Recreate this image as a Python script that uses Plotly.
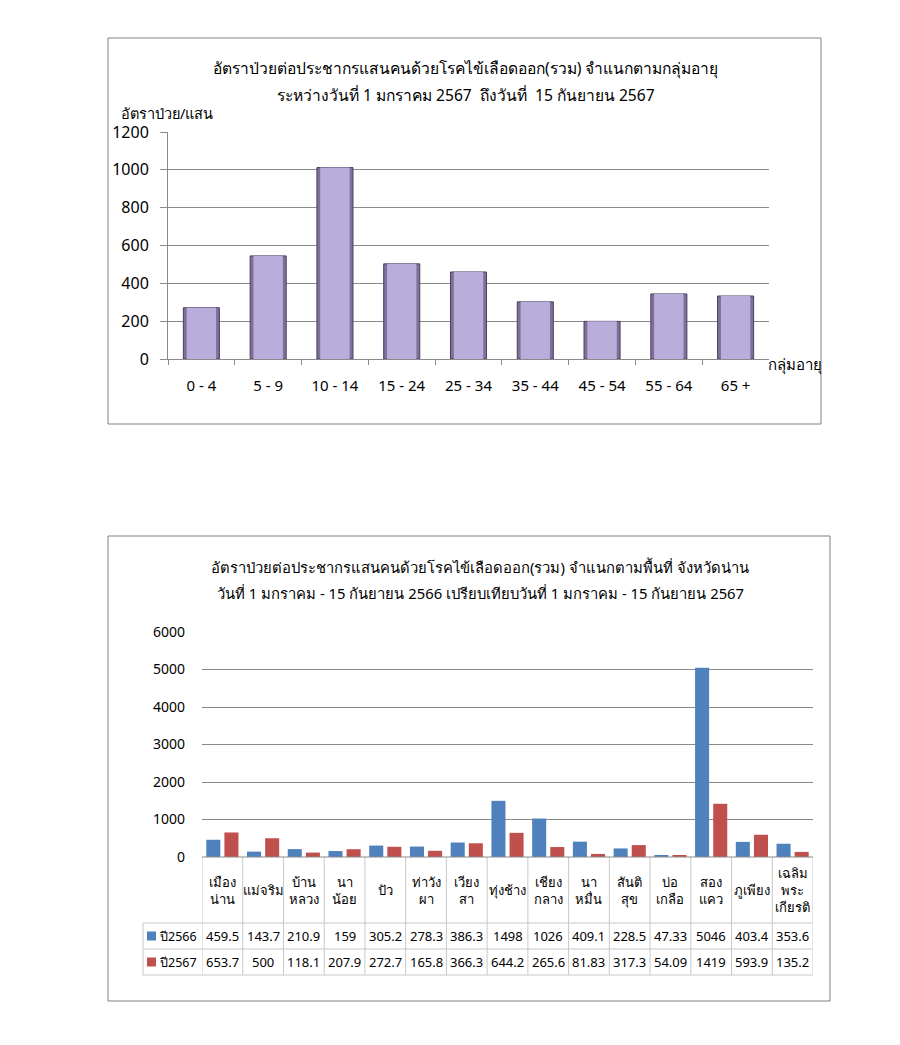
import plotly.graph_objects as go

W, H = 900, 1045

# ---------------- data ----------------
age_groups = ["0 - 4", "5 - 9", "10 - 14", "15 - 24", "25 - 34", "35 - 44", "45 - 54", "55 - 64", "65 +"]
age_rates = [271, 545, 1012, 503, 460, 302, 199, 344, 333]

districts = ["เมืองน่าน", "แม่จริม", "บ้านหลวง", "นาน้อย", "ปัว", "ท่าวังผา", "เวียงสา", "ทุ่งช้าง",
             "เชียงกลาง", "นาหมื่น", "สันติสุข", "บ่อเกลือ", "สองแคว", "ภูเพียง", "เฉลิมพระเกียรติ"]
district_labels = ["เมือง<br>น่าน", "แม่จริม", "บ้าน<br>หลวง", "นา<br>น้อย", "ปัว", "ท่าวัง<br>ผา", "เวียง<br>สา",
                   "ทุ่งช้าง", "เชียง<br>กลาง", "นา<br>หมื่น", "สันติ<br>สุข", "บ่อ<br>เกลือ", "สอง<br>แคว",
                   "ภูเพียง", "เฉลิม<br>พระ<br>เกียรติ"]
rate_2566 = [459.5, 143.7, 210.9, 159, 305.2, 278.3, 386.3, 1498, 1026, 409.1, 228.5, 47.33, 5046, 403.4, 353.6]
rate_2567 = [653.7, 500, 118.1, 207.9, 272.7, 165.8, 366.3, 644.2, 265.6, 81.83, 317.3, 54.09, 1419, 593.9, 135.2]
series_names = ["ปี2566", "ปี2567"]

NB = "\u00a0"
title1 = ["อัตราป่วยต่อประชากรแสนคนด้วยโรคไข้เลือดออก(รวม) จำแนกตามกลุ่มอายุ",
          f"ระหว่างวันที่ 1 มกราคม 2567 {NB}ถึงวันที่ {NB}15 กันยายน 2567"]
title2 = ["อัตราป่วยต่อประชากรแสนคนด้วยโรคไข้เลือดออก(รวม) จำแนกตามพื้นที่ จังหวัดน่าน",
          "วันที่ 1 มกราคม - 15 กันยายน 2566 เปรียบเทียบวันที่ 1 มกราคม - 15 กันยายน 2567"]

BLUE = "#4F81BD"
RED = "#C0504D"
FONT = "Tahoma, 'Noto Sans', 'DejaVu Sans', sans-serif"

# the page body adds an 8px margin around the figure
OFF = 8


def px(x):
    return (x - OFF) / W


def py(y):
    return 1 - (y - OFF) / H


fig = go.Figure()

# ---------------- chart 1 (bevelled bars: dark body + lighter face) ----------------
fig.add_trace(go.Bar(
    x=age_groups, y=age_rates, xaxis="x", yaxis="y", width=0.54,
    marker=dict(color="#7E7099", line=dict(color="#4A3F60", width=1)),
    showlegend=False, hoverinfo="skip",
))
fig.add_trace(go.Bar(
    x=age_groups, y=age_rates, xaxis="x", yaxis="y", width=0.44,
    marker=dict(color="#B9ADDB", line=dict(width=0)),
    showlegend=False,
))

# ---------------- chart 2 ----------------
fig.add_trace(go.Bar(
    x=districts, y=rate_2566, xaxis="x2", yaxis="y2", name=series_names[0],
    offset=-0.395, width=0.345, marker=dict(color=BLUE, line=dict(width=0)), showlegend=False,
))
fig.add_trace(go.Bar(
    x=districts, y=rate_2567, xaxis="x2", yaxis="y2", name=series_names[1],
    offset=0.05, width=0.345, marker=dict(color=RED, line=dict(width=0)), showlegend=False,
))

GRID = "#8a8a8a"
fig.update_layout(
    width=W, height=H, margin=dict(l=0, r=0, t=0, b=0, pad=0, autoexpand=False),
    paper_bgcolor="white", plot_bgcolor="white",
    barmode="overlay", showlegend=False,
    font=dict(family=FONT, color="black"),
    xaxis=dict(domain=[px(168), px(769)], anchor="y", type="category", range=[-0.5, 8.5],
               showline=True, linecolor=GRID, linewidth=1,
               ticks="outside", tickson="boundaries", ticklen=5, tickcolor=GRID,
               tickfont=dict(size=15), ticklabelstandoff=13, showgrid=False, fixedrange=True),
    yaxis=dict(domain=[py(359), py(132)], anchor="x", range=[0, 1200], dtick=200,
               showgrid=True, gridcolor=GRID, gridwidth=1,
               showline=True, linecolor=GRID, linewidth=1,
               ticks="outside", ticklen=7, tickcolor=GRID,
               tickfont=dict(size=16), ticklabelstandoff=8, zeroline=False, fixedrange=True),
    xaxis2=dict(domain=[px(202), px(813)], anchor="y2", type="category", range=[-0.5, 14.5],
                showline=False, showticklabels=False, ticks="", showgrid=False, fixedrange=True),
    yaxis2=dict(domain=[py(857), py(632)], anchor="x2", range=[0, 6000], dtick=1000,
                showgrid=True, gridcolor=GRID, gridwidth=1, showline=False,
                ticks="", tickfont=dict(size=14), ticklabelstandoff=16,
                zeroline=False, fixedrange=True),
)

shapes = []
annotations = []

# frames
shapes.append(dict(type="rect", xref="paper", yref="paper", x0=px(108), x1=px(821), y0=py(424), y1=py(38),
                   line=dict(color="#808080", width=1)))
shapes.append(dict(type="rect", xref="paper", yref="paper", x0=px(108), x1=px(830), y0=py(1001), y1=py(536),
                   line=dict(color="#808080", width=1)))

# titles
for i, t in enumerate(title1):
    annotations.append(dict(text=t, xref="paper", yref="paper", x=px(466), y=py(68 + 27 * i),
                            showarrow=False, xanchor="center", yanchor="middle", font=dict(size=15.6)))
for i, t in enumerate(title2):
    annotations.append(dict(text=t, xref="paper", yref="paper", x=px(480), y=py(567 + 26 * i),
                            showarrow=False, xanchor="center", yanchor="middle", font=dict(size=14.8)))

annotations.append(dict(text="อัตราป่วย/แสน", xref="paper", yref="paper", x=px(119), y=py(113),
                        showarrow=False, xanchor="left", yanchor="middle", font=dict(size=14.5)))
annotations.append(dict(text="กลุ่มอายุ", xref="paper", yref="paper", x=px(766), y=py(364),
                        showarrow=False, xanchor="left", yanchor="middle", font=dict(size=15)))

# data table under chart 2
TB = "#c8c8c8"
y_top, y_head, y_r1, y_r2 = 857, 923, 949, 975
x_left = 143
n = len(districts)
for k in range(n + 1):
    shapes.append(dict(type="line", xref="x2", yref="paper", x0=k - 0.5, x1=k - 0.5,
                       y0=py(y_top), y1=py(y_r2), line=dict(color=TB, width=1)))
shapes.append(dict(type="line", xref="paper", yref="paper", x0=px(x_left), x1=px(x_left),
                   y0=py(y_head), y1=py(y_r2), line=dict(color=TB, width=1)))
for yy in (y_head, y_r1, y_r2):
    shapes.append(dict(type="line", xref="paper", yref="paper", x0=px(x_left), x1=px(813),
                       y0=py(yy), y1=py(yy), line=dict(color=TB, width=1)))
shapes.append(dict(type="line", xref="paper", yref="paper", x0=px(202), x1=px(813),
                   y0=py(y_top), y1=py(y_top), line=dict(color=GRID, width=1)))

for k, lab in enumerate(district_labels):
    annotations.append(dict(text=lab, xref="x2", yref="paper", x=k, y=py((y_top + y_head) / 2),
                            showarrow=False, xanchor="center", yanchor="middle",
                            font=dict(size=13)))
for row, (vals, yy, col, nm) in enumerate(((rate_2566, (y_head + y_r1) / 2, BLUE, series_names[0]),
                                            (rate_2567, (y_r1 + y_r2) / 2, RED, series_names[1]))):
    for k, v in enumerate(vals):
        annotations.append(dict(text=f"{v:g}", xref="x2", yref="paper", x=k, y=py(yy),
                                showarrow=False, xanchor="center", yanchor="middle", font=dict(size=13)))
    # legend key square
    shapes.append(dict(type="rect", xref="paper", yref="paper", x0=px(147), x1=px(156),
                       y0=py(yy + 4.5), y1=py(yy - 4.5), fillcolor=col, line=dict(width=0)))
    annotations.append(dict(text=nm, xref="paper", yref="paper",
                            x=px(199), y=py(yy), showarrow=False, xanchor="right", yanchor="middle",
                            font=dict(size=12.5)))

fig.update_layout(shapes=shapes, annotations=annotations)
fig.write_html("out.html")
